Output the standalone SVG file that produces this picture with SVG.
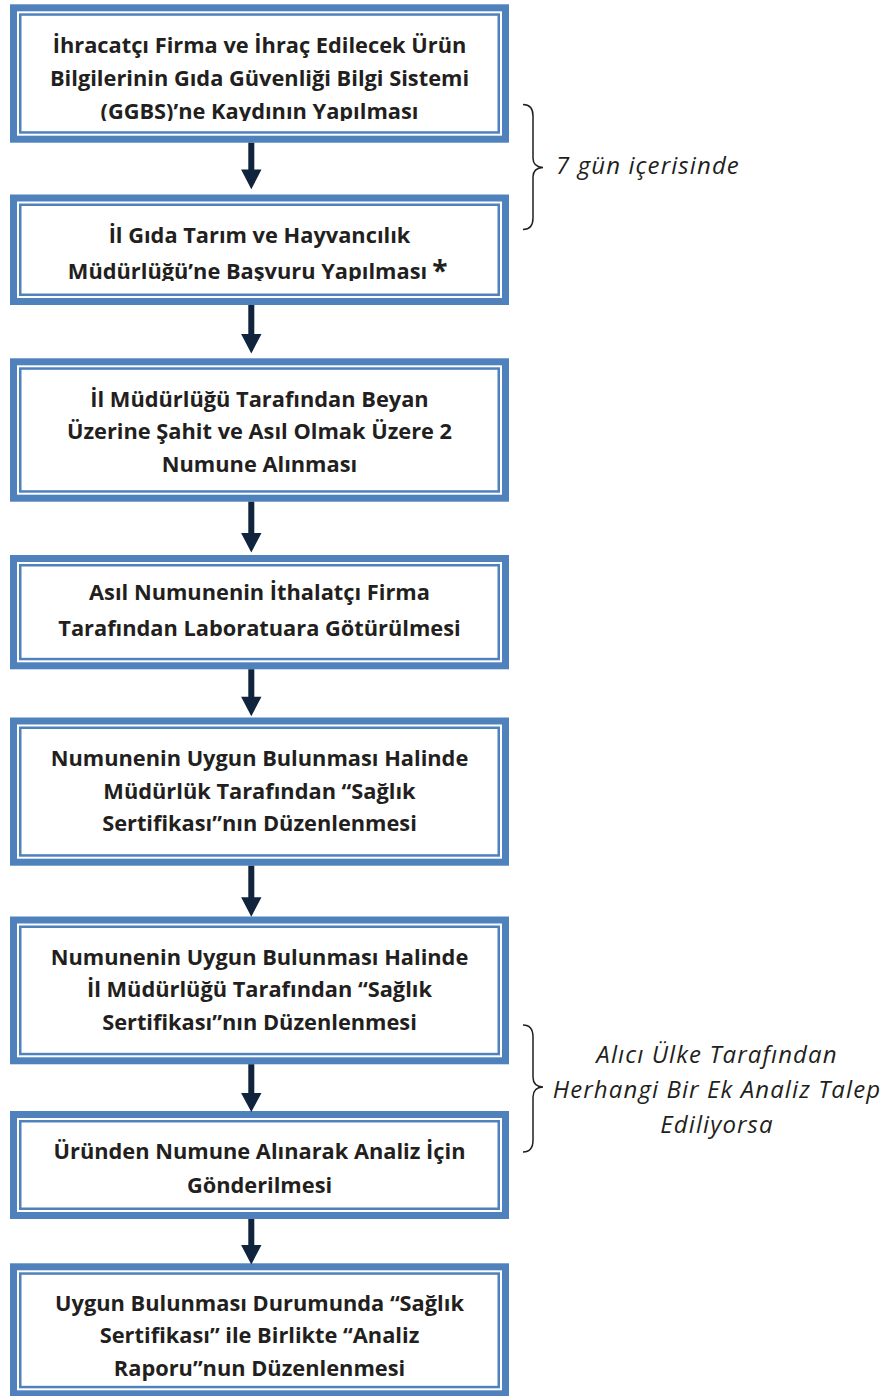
<svg xmlns="http://www.w3.org/2000/svg" width="896" height="1396" viewBox="0 0 896 1396">
<style>
.outer{fill:#4F81BD}
.gap{fill:#FFFFFF}
.inner{fill:#FFFFFF;stroke:#4F81BD;stroke-width:2.5}
.t{font-family:"Open Sans",Lato,"Liberation Sans",sans-serif;font-weight:700;font-size:21.8px;fill:#231F20;text-anchor:middle}
.it{font-family:"Open Sans",Lato,"Liberation Sans",sans-serif;font-style:italic;font-size:24px;letter-spacing:1.1px;fill:#231F20;text-anchor:middle}
.shaft{fill:#10243E}
.brace{fill:none;stroke:#231F20;stroke-width:1.5}
</style>
<defs>
<clipPath id="c1"><rect x="0" y="0" width="520" height="121"/></clipPath>
<clipPath id="c2"><rect x="0" y="190" width="520" height="91"/></clipPath>
</defs>
<rect width="896" height="1396" fill="#FFFFFF"/>

<g id="node1">
<rect class="outer" x="10" y="4.3" width="499" height="138.4"/>
<rect class="gap" x="17" y="11.3" width="485" height="124.4"/>
<rect class="inner" x="20.25" y="14.55" width="478.5" height="117.9"/>
<g clip-path="url(#c1)">
<text class="t" x="259.5" y="53.3">İhracatçı Firma ve İhraç Edilecek Ürün</text>
<text class="t" x="259.5" y="86">Bilgilerinin Gıda Güvenliği Bilgi Sistemi</text>
<text class="t" x="259.5" y="118.5">(GGBS)’ne Kaydının Yapılması</text>
</g>
</g>

<g id="node2">
<rect class="outer" x="10" y="194.5" width="499" height="110.5"/>
<rect class="gap" x="17" y="201.5" width="485" height="96.5"/>
<rect class="inner" x="20.25" y="204.75" width="478.5" height="90"/>
<g clip-path="url(#c2)">
<text class="t" x="259.5" y="243.3">İl Gıda Tarım ve Hayvancılık</text>
<text class="t" x="247.5" y="279.3">Müdürlüğü’ne Başvuru Yapılması</text>
</g>
<text class="t" x="440" y="281" style="font-size:28px">*</text>
</g>

<g id="node3">
<rect class="outer" x="10" y="358.3" width="499" height="143.4"/>
<rect class="gap" x="17" y="365.3" width="485" height="129.4"/>
<rect class="inner" x="20.25" y="368.55" width="478.5" height="122.9"/>
<text class="t" x="259.5" y="406.7">İl Müdürlüğü Tarafından Beyan</text>
<text class="t" x="259.5" y="439">Üzerine Şahit ve Asıl Olmak Üzere 2</text>
<text class="t" x="259.5" y="471.7">Numune Alınması</text>
</g>

<g id="node4">
<rect class="outer" x="10" y="555" width="499" height="114.3"/>
<rect class="gap" x="17" y="562" width="485" height="100.3"/>
<rect class="inner" x="20.25" y="565.25" width="478.5" height="93.8"/>
<text class="t" x="259.5" y="600">Asıl Numunenin İthalatçı Firma</text>
<text class="t" x="259.5" y="636">Tarafından Laboratuara Götürülmesi</text>
</g>

<g id="node5">
<rect class="outer" x="10" y="717.5" width="499" height="148.2"/>
<rect class="gap" x="17" y="724.5" width="485" height="134.2"/>
<rect class="inner" x="20.25" y="727.75" width="478.5" height="127.7"/>
<text class="t" x="259.5" y="765.7">Numunenin Uygun Bulunması Halinde</text>
<text class="t" x="259.5" y="798.5">Müdürlük Tarafından “Sağlık</text>
<text class="t" x="259.5" y="830.7">Sertifikası”nın Düzenlenmesi</text>
</g>

<g id="node6">
<rect class="outer" x="10" y="916.5" width="499" height="147.8"/>
<rect class="gap" x="17" y="923.5" width="485" height="133.8"/>
<rect class="inner" x="20.25" y="926.75" width="478.5" height="127.3"/>
<text class="t" x="259.5" y="965">Numunenin Uygun Bulunması Halinde</text>
<text class="t" x="259.5" y="997.3">İl Müdürlüğü Tarafından “Sağlık</text>
<text class="t" x="259.5" y="1030">Sertifikası”nın Düzenlenmesi</text>
</g>

<g id="node7">
<rect class="outer" x="10" y="1111" width="499" height="108"/>
<rect class="gap" x="17" y="1118" width="485" height="94"/>
<rect class="inner" x="20.25" y="1121.25" width="478.5" height="87.5"/>
<text class="t" x="259.5" y="1159.3">Üründen Numune Alınarak Analiz İçin</text>
<text class="t" x="259.5" y="1192.7">Gönderilmesi</text>
</g>

<g id="node8">
<rect class="outer" x="10" y="1263.3" width="499" height="134"/>
<rect class="gap" x="17" y="1270.3" width="485" height="120"/>
<rect class="inner" x="20.25" y="1273.55" width="478.5" height="113.5"/>
<text class="t" x="259.5" y="1310.7">Uygun Bulunması Durumunda “Sağlık</text>
<text class="t" x="259.5" y="1343.3">Sertifikası” ile Birlikte “Analiz</text>
<text class="t" x="259.5" y="1376">Raporu”nun Düzenlenmesi</text>
</g>

<g id="note1">
<path class="brace" d="M523,104.5 Q533,104.5 533,116 L533,158 Q533,167 543,167.5 Q533,168 533,177 L533,218 Q533,229.5 523,229.5"/>
<text class="it" x="648" y="174">7 gün içerisinde</text>
</g>

<g id="note2">
<path class="brace" d="M523,1025 Q533,1025 533,1037 L533,1077 Q533,1086.5 543,1087 Q533,1087.5 533,1097 L533,1140 Q533,1152 523,1152"/>
<text class="it" x="717" y="1062.7">Alıcı Ülke Tarafından</text>
<text class="it" x="717" y="1098">Herhangi Bir Ek Analiz Talep</text>
<text class="it" x="717" y="1133">Ediliyorsa</text>
</g>

<g id="connectors">
<path class="shaft" d="M248.3,142.7 H254.3 V169.5 H261.5 L251.3,189.3 L241.1,169.5 H248.3 Z"/>
<path class="shaft" d="M248.3,305 H254.3 V334 H261.5 L251.3,353.5 L241.1,334 H248.3 Z"/>
<path class="shaft" d="M248.3,501.7 H254.3 V533 H261.5 L251.3,552.5 L241.1,533 H248.3 Z"/>
<path class="shaft" d="M248.3,669.3 H254.3 V696.7 H261.5 L251.3,716.2 L241.1,696.7 H248.3 Z"/>
<path class="shaft" d="M248.3,865.7 H254.3 V897.3 H261.5 L251.3,916.7 L241.1,897.3 H248.3 Z"/>
<path class="shaft" d="M248.3,1064.3 H254.3 V1093 H261.5 L251.3,1112 L241.1,1093 H248.3 Z"/>
<path class="shaft" d="M248.3,1219 H254.3 V1245 H261.5 L251.3,1264.5 L241.1,1245 H248.3 Z"/>
</g>
</svg>
